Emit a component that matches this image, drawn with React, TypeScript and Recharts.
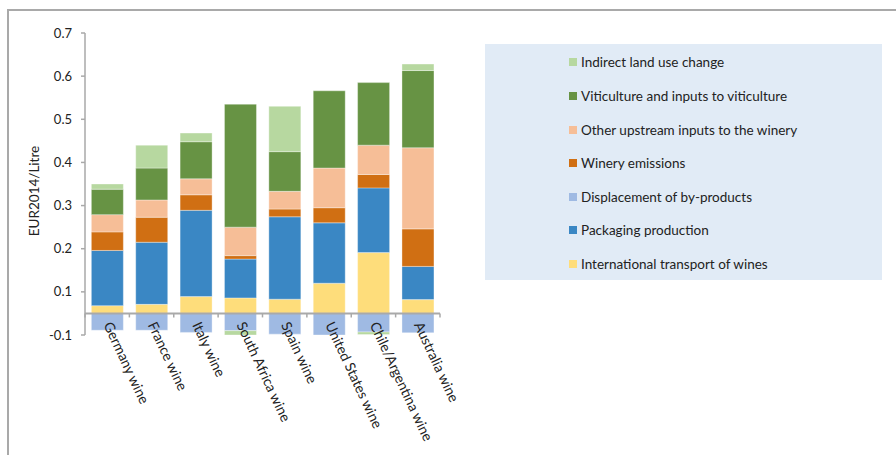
import React from 'react';
import { BarChart, Bar, XAxis, YAxis, ReferenceLine, Legend } from 'recharts';

const categories = [
  'Germany wine',
  'France wine',
  'Italy wine',
  'South Africa wine',
  'Spain wine',
  'United States wine',
  'Chile/Argentina wine',
  'Australia wine',
];

// EUR2014 per litre, per cost component
const transport = [0.018, 0.021, 0.039, 0.036, 0.033, 0.070, 0.141, 0.032];
const packaging = [0.128, 0.144, 0.200, 0.090, 0.191, 0.140, 0.150, 0.077];
const displacement = [-0.039, -0.039, -0.044, -0.040, -0.048, -0.054, -0.043, -0.045];
const wineryEmissions = [0.043, 0.058, 0.036, 0.008, 0.018, 0.035, 0.031, 0.087];
const otherUpstream = [0.040, 0.040, 0.037, 0.066, 0.041, 0.092, 0.068, 0.188];
const viticulture = [0.059, 0.074, 0.086, 0.285, 0.092, 0.179, 0.145, 0.179];
const landUseChange = [0.012, 0.053, 0.020, -0.014, 0.105, 0, -0.006, 0.015];

// axis ticks sit half-way between tenths; labels are rounded to one decimal
const yTicks = [-0.05, 0.05, 0.15, 0.25, 0.35, 0.45, 0.55, 0.65];
const yTickLabels = ['-0.1', '0.1', '0.2', '0.3', '0.4', '0.5', '0.6', '0.7'];
const yDomain: [number, number] = [-0.05, 0.65];
const yTitle = 'EUR2014/Litre';

const series = [
  { key: 'transport', name: 'International transport of wines', color: '#FEDD7B', values: transport },
  { key: 'packaging', name: 'Packaging production', color: '#3A87C4', values: packaging },
  { key: 'displacement', name: 'Displacement of by-products', color: '#9FBAE3', values: displacement },
  { key: 'winery', name: 'Winery emissions', color: '#D06F13', values: wineryEmissions },
  { key: 'upstream', name: 'Other upstream inputs to the winery', color: '#F6BE97', values: otherUpstream },
  { key: 'viticulture', name: 'Viticulture and inputs to viticulture', color: '#679344', values: viticulture },
  { key: 'iluc', name: 'Indirect land use change', color: '#B7D8A0', values: landUseChange },
];

const data = categories.map((name, i) => {
  const row: Record<string, string | number> = { name };
  series.forEach((s) => {
    row[s.key] = s.values[i];
  });
  return row;
});

// layout
const W = 896;
const H = 455;
const margin = { top: 33, right: 456, bottom: 10, left: 30 };
const yAxisWidth = 55;
const xAxisHeight = 110;
const plotTop = margin.top;
const plotHeight = H - margin.top - margin.bottom - xAxisHeight;
const plotWidth = W - margin.left - margin.right - yAxisWidth;
const zeroY = plotTop + (yDomain[1] / (yDomain[1] - yDomain[0])) * plotHeight;
const band = plotWidth / categories.length;
const labelAngle = 65;

const axisGrey = '#A9A9A9';
const textColor = '#222222';
const font = "Lato, 'Open Sans', sans-serif";

const CategoryTick = (props: any) => {
  const { x, payload, index } = props;
  const left = x - band / 2;
  const right = x + band / 2;
  const ty = zeroY + 9;
  return (
    <g>
      <line x1={left} x2={left} y1={zeroY} y2={zeroY + 4} stroke={axisGrey} strokeWidth={1.5} />
      {index === categories.length - 1 && (
        <line x1={right} x2={right} y1={zeroY} y2={zeroY + 4} stroke={axisGrey} strokeWidth={1.5} />
      )}
      <text
        x={x + 1}
        y={ty}
        transform={`rotate(${labelAngle}, ${x + 1}, ${ty})`}
        textAnchor="start"
        dominantBaseline="central"
        fontSize={14}
        fontFamily={font}
        fill={textColor}
      >
        {payload.value}
      </text>
    </g>
  );
};

const LegendBox = () => (
  <div
    style={{
      width: 397,
      height: 236,
      background: '#E1EBF6',
      position: 'relative',
      fontFamily: font,
      fontSize: 13.5,
      color: textColor,
    }}
  >
    {[...series].reverse().map((s, i) => (
      <div
        key={s.key}
        style={{
          position: 'absolute',
          left: 84,
          top: 18.3 + i * 33.6 - 10,
          height: 20,
          display: 'flex',
          alignItems: 'center',
          whiteSpace: 'nowrap',
        }}
      >
        <span style={{ width: 8, height: 8, background: s.color, display: 'inline-block', marginRight: 4 }} />
        <span>{s.name}</span>
      </div>
    ))}
  </div>
);

export default function App() {
  return (
    <div style={{ position: 'absolute', left: 0, top: 0, width: W, height: H, overflow: 'hidden', background: '#fff' }}>
      <div
        style={{
          position: 'absolute',
          left: 7,
          top: 9,
          width: 1000,
          height: 1000,
          border: `2px solid ${axisGrey}`,
        }}
      />
      <div style={{ position: 'absolute', left: 0, top: 0 }}>
        <BarChart
          width={W}
          height={H}
          data={data}
          margin={margin}
          stackOffset="sign"
          barCategoryGap="14.3%"
        >
          <XAxis
            dataKey="name"
            height={xAxisHeight}
            axisLine={false}
            tickLine={false}
            interval={0}
            tick={<CategoryTick />}
          />
          <YAxis
            width={yAxisWidth}
            domain={yDomain}
            ticks={yTicks}
            allowDataOverflow
            tickFormatter={(v: number) => yTickLabels[yTicks.indexOf(v)] ?? ''}
            stroke={axisGrey}
            strokeWidth={1.5}
            tickSize={4}
            tickMargin={9}
            tick={{ fontSize: 13, fill: textColor, fontFamily: font }}
          />
          {series.map((s) => (
            <Bar
              key={s.key}
              dataKey={s.key}
              name={s.name}
              stackId="cost"
              fill={s.color}
              stroke="#ffffff"
              strokeOpacity={0.35}
              strokeWidth={1}
              isAnimationActive={false}
            />
          ))}
          <ReferenceLine y={0} stroke={axisGrey} strokeWidth={2} />
          <text
            x={34}
            y={plotTop + plotHeight / 2 + 7}
            transform={`rotate(-90, 34, ${plotTop + plotHeight / 2 + 7})`}
            textAnchor="middle"
            dominantBaseline="central"
            fontSize={13.5}
            fontFamily={font}
            fill={textColor}
          >
            {yTitle}
          </text>
          <Legend
            layout="horizontal"
            verticalAlign="middle"
            align="center"
            wrapperStyle={{ position: 'absolute', left: 485, top: 44, width: 397, height: 236 }}
            content={() => <LegendBox />}
          />
        </BarChart>
      </div>
    </div>
  );
}
